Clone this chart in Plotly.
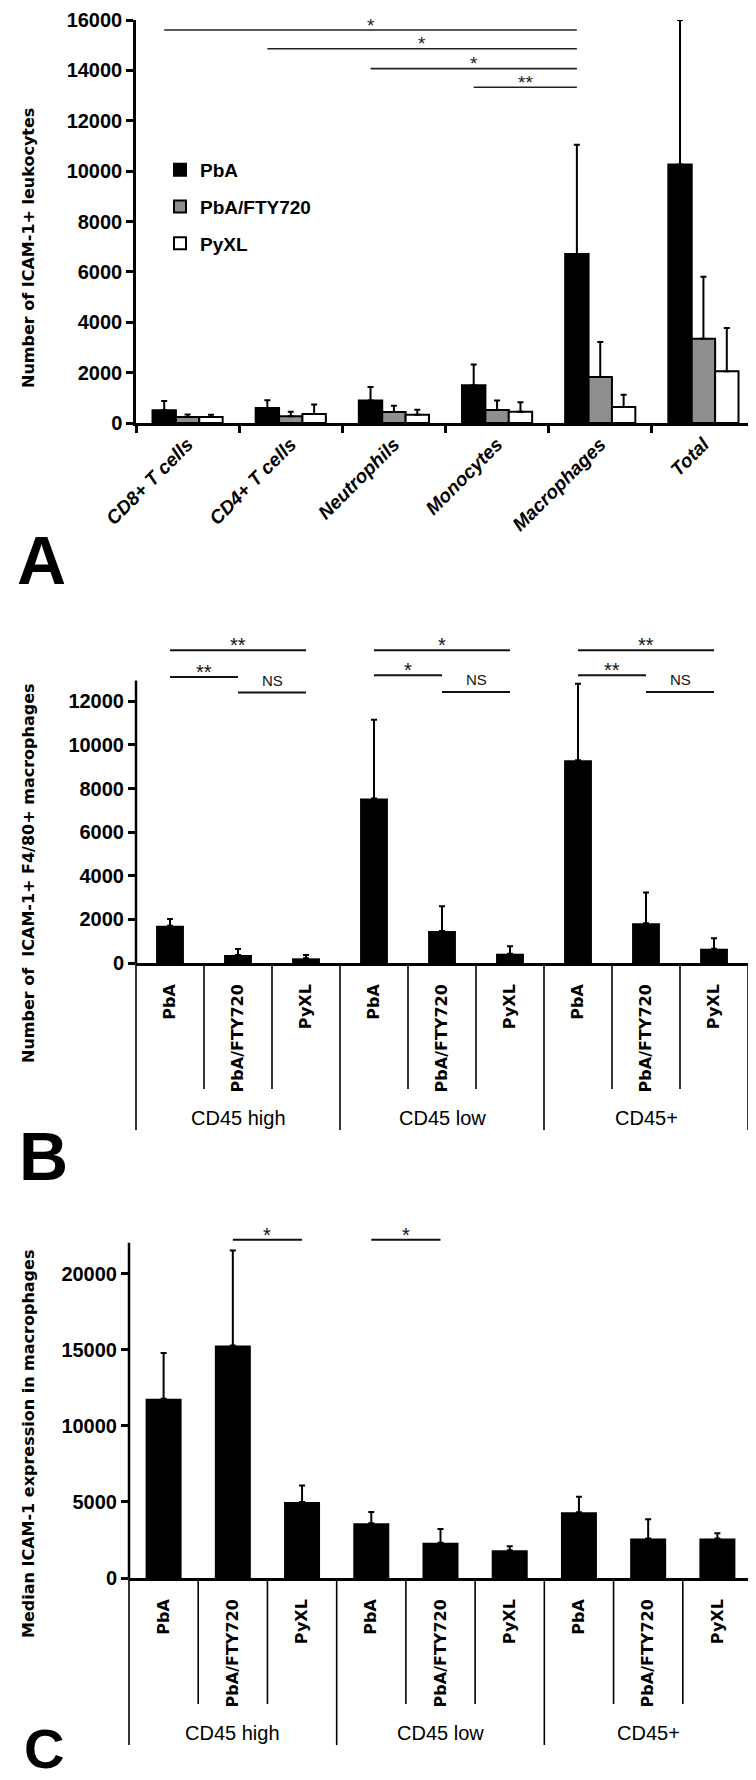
import plotly.graph_objects as go

W, H = 756, 1780

# ---------------- Panel A data ----------------
cells = ["CD8+ T cells", "CD4+ T cells", "Neutrophils", "Monocytes", "Macrophages", "Total"]
pba_mean = [510, 600, 890, 1500, 6710, 10260]
pba_sd = [360, 300, 540, 820, 4340, 5740]
fty_mean = [235, 270, 440, 520, 1830, 3340]
fty_sd = [100, 175, 245, 370, 1390, 2470]
pyxl_mean = [240, 360, 330, 450, 635, 2050]
pyxl_sd = [90, 370, 200, 370, 490, 1720]
series_names = ["PbA", "PbA/FTY720", "PyXL"]
series_colors = ["#000000", "#8f8f8f", "#ffffff"]
a_ticks = [0, 2000, 4000, 6000, 8000, 10000, 12000, 14000, 16000]
# significance: (from category index, to category index, label, bracket height)
sig_a = [(0, 4, "*", 15600), (1, 4, "*", 14860), (2, 4, "*", 14070), (3, 4, "**", 13330)]

# ---------------- Panel B / C data ----------------
groups = ["CD45 high", "CD45 low", "CD45+"]
conditions = ["PbA", "PbA/FTY720", "PyXL"]
mac_count = [1710, 366, 214, 7540, 1466, 426, 9300, 1818, 655]
mac_count_sd = [305, 275, 152, 3610, 1131, 338, 3510, 1420, 475]
b_ticks = [0, 2000, 4000, 6000, 8000, 10000, 12000]
sig_b = [(0, 2, "**", 14340), (0, 1, "**", 13120), (1, 2, "NS", 12400),
         (3, 5, "*", 14340), (3, 4, "*", 13200), (4, 5, "NS", 12430),
         (6, 8, "**", 14340), (6, 7, "**", 13200), (7, 8, "NS", 12430)]

icam_median = [11780, 15285, 5000, 3600, 2325, 1820, 4320, 2590, 2590]
icam_median_sd = [3020, 6250, 1075, 745, 900, 265, 1030, 1270, 350]
c_ticks = [0, 5000, 10000, 15000, 20000]
sig_c = [(1, 2, "*", 22240), (3, 4, "*", 22240)]

# ---------------- helpers ----------------
def py(p):
    return 1 - p / H

def px(p):
    return p / W

TICKFONT = dict(family="Liberation Sans, Arial, sans-serif", size=20, color="black", weight="bold")
TITLEFONT = dict(family="DejaVu Sans, Verdana, sans-serif", size=16, color="black", weight="bold")
CATFONT = dict(family="DejaVu Sans, Verdana, sans-serif", size=16, color="black", weight="bold")

fig = go.Figure()

# Panel A bars
for name, color, mean, sd in zip(series_names, series_colors,
                                 [pba_mean, fty_mean, pyxl_mean],
                                 [pba_sd, fty_sd, pyxl_sd]):
    fig.add_trace(go.Bar(
        x=cells, y=mean, name=name, legendgroup=name,
        marker=dict(color=color, line=dict(color="black", width=2)),
        error_y=dict(type="data", array=sd, arrayminus=[0] * len(sd), symmetric=False,
                     color="black", thickness=2, width=3),
        xaxis="x", yaxis="y",
    ))

bar_x = list(range(9))
b_labels = conditions * 3

fig.add_trace(go.Bar(
    x=bar_x, y=mac_count, width=0.41, showlegend=False,
    marker=dict(color="black", line=dict(width=0)),
    error_y=dict(type="data", array=mac_count_sd, arrayminus=[0] * 9, symmetric=False,
                 color="black", thickness=2, width=3),
    xaxis="x2", yaxis="y2",
))
fig.add_trace(go.Bar(
    x=bar_x, y=icam_median, width=0.52, showlegend=False,
    marker=dict(color="black", line=dict(width=0)),
    error_y=dict(type="data", array=icam_median_sd, arrayminus=[0] * 9, symmetric=False,
                 color="black", thickness=2, width=3),
    xaxis="x3", yaxis="y3",
))

shapes = []
annotations = []

# Panel A significance brackets (from PbA bar of a category to PbA bar of Macrophages)
bargap_a = 0.32
off = (1 - bargap_a) / 3
for i, j, lab, yv in sig_a:
    x0 = i - off
    x1 = j - off
    shapes.append(dict(type="line", xref="x", yref="y", x0=x0, x1=x1, y0=yv, y1=yv,
                       line=dict(color="#222", width=1.6)))
    annotations.append(dict(xref="x", yref="y", x=(x0 + x1) / 2, y=yv, text=lab, showarrow=False,
                            yanchor="middle", yshift=5,
                            font=dict(family="Liberation Sans, Arial", size=19, color="#222")))

# Panel B/C significance brackets
for sig, xr, yr in [(sig_b, "x2", "y2"), (sig_c, "x3", "y3")]:
    for i, j, lab, yv in sig:
        shapes.append(dict(type="line", xref=xr, yref=yr, x0=i, x1=j, y0=yv, y1=yv,
                           line=dict(color="#111", width=2)))
        if lab == "NS":
            annotations.append(dict(xref=xr, yref=yr, x=(i + j) / 2, y=yv, text=lab, showarrow=False,
                                    yanchor="middle", yshift=12,
                                    font=dict(family="Liberation Sans, Arial", size=15, color="#111")))
        else:
            annotations.append(dict(xref=xr, yref=yr, x=(i + j) / 2, y=yv, text=lab, showarrow=False,
                                    yanchor="middle", yshift=5,
                                    font=dict(family="Liberation Sans, Arial", size=20, color="#111")))

# Y axis lines for B and C (they stop short of the bracket area)
shapes.append(dict(type="line", xref="x2 domain", yref="y2", x0=0, x1=0, y0=0, y1=12950,
                   line=dict(color="black", width=2.5)))
shapes.append(dict(type="line", xref="x3 domain", yref="y3", x0=0, x1=0, y0=0, y1=22050,
                   line=dict(color="black", width=2.5)))

# Multi-level category boxes under B and C
for xd, axis_px, inner_px, group_px, lab_px, xr in [("x2 domain", 955, 1081, 1122, 1110, "x2"),
                                                    ("x3 domain", 1570, 1696, 1737, 1725, "x3")]:
    for k in range(10):
        bottom = group_px if k % 3 == 0 else inner_px
        shapes.append(dict(type="line", xref=xd, yref="paper", x0=k / 9, x1=k / 9,
                           y0=py(axis_px), y1=py(bottom), line=dict(color="black", width=1.6)))
    for g, name in enumerate(groups):
        annotations.append(dict(xref=xr, yref="paper", x=3 * g + 1, y=py(lab_px), text=name,
                                showarrow=False, yanchor="middle",
                                font=dict(family="Liberation Sans, Arial", size=20, color="black")))

# Y axis titles
for title, cy in [("Number of ICAM-1+ leukocytes", 240),
                  ("Number of  ICAM-1+ F4/80+ macrophages", 865),
                  ("Median ICAM-1 expression in macrophages", 1436)]:
    annotations.append(dict(xref="paper", yref="paper", x=px(20), y=py(cy), text=title,
                            textangle=-90, showarrow=False, xanchor="center", yanchor="middle",
                            font=TITLEFONT))

# Panel letters
for letter, cx, cy, fs in [("A", 33, 552, 68), ("B", 35, 1148, 68), ("C", 36, 1740, 56)]:
    annotations.append(dict(xref="paper", yref="paper", x=px(cx), y=py(cy), text=letter,
                            showarrow=False, xanchor="center", yanchor="middle",
                            font=dict(family="Liberation Sans, Arial", size=fs, color="black",
                                      weight="bold")))

common_y = dict(ticks="outside", ticklen=7, tickwidth=2.5, tickcolor="black", showgrid=False,
                zeroline=False, tickfont=TICKFONT, tickformat="d", automargin=False)

fig.update_layout(
    width=W, height=H, autosize=False,
    margin=dict(l=0, r=0, t=0, b=0, autoexpand=False),
    paper_bgcolor="white", plot_bgcolor="white",
    barmode="group", bargap=bargap_a, bargroupgap=0,
    showlegend=True,
    legend=dict(x=px(152), y=py(143), xanchor="left", yanchor="top",
                font=dict(family="Liberation Sans, Arial", size=19, color="black", weight="bold"),
                tracegroupgap=9, bgcolor="rgba(0,0,0,0)", traceorder="grouped"),
    xaxis=dict(domain=[px(128), px(747)], anchor="y", type="category", range=[-0.5, 5.5],
               tickson="boundaries", ticks="outside", ticklen=7, tickwidth=2.5, tickcolor="black",
               showline=True, linewidth=2.5, linecolor="black", showgrid=False, automargin=False,
               tickangle=-45,
               tickfont=dict(family="Liberation Sans, Arial", size=19, color="black",
                             weight="bold", style="italic")),
    yaxis=dict(domain=[py(415), py(12)], anchor="x", range=[0, 16000], tickvals=a_ticks,
               showline=True, linewidth=2.5, linecolor="black", **common_y),
    xaxis2=dict(domain=[px(128), px(740)], anchor="y2", range=[-0.5, 8.5],
                tickvals=bar_x, ticktext=b_labels, tickangle=-90, ticks="", automargin=False,
                ticklabelstandoff=12, showline=True, linewidth=2.5, linecolor="black",
                showgrid=False, zeroline=False, tickfont=CATFONT),
    yaxis2=dict(domain=[py(955), py(617)], anchor="x2", range=[0, 15500], tickvals=b_ticks,
                showline=False, **common_y),
    xaxis3=dict(domain=[px(121), px(744)], anchor="y3", range=[-0.5, 8.5],
                tickvals=bar_x, ticktext=b_labels, tickangle=-90, ticks="", automargin=False,
                ticklabelstandoff=12, showline=True, linewidth=2.5, linecolor="black",
                showgrid=False, zeroline=False, tickfont=CATFONT),
    yaxis3=dict(domain=[py(1570), py(1205)], anchor="x3", range=[0, 24000], tickvals=c_ticks,
                showline=False, **common_y),
    shapes=shapes,
    annotations=annotations,
)

fig.write_html("out.html")
